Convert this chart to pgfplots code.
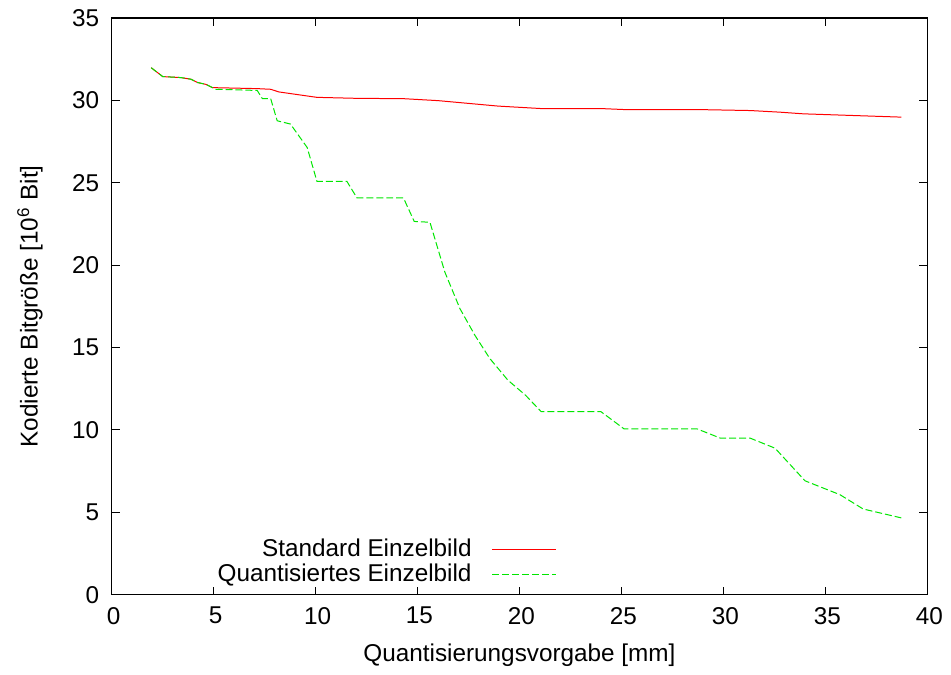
\documentclass[border=0pt]{standalone}
\usepackage{pgfplots}
\pgfplotsset{compat=1.18}
\usepackage{fontspec}
\setmainfont{Liberation Sans}
\begin{document}
\fontsize{12.2}{14.5}\selectfont
\begin{tikzpicture}
\begin{axis}[
  scale only axis,
  width=409.5pt, height=289.5pt,
  xmin=0, xmax=40, ymin=0, ymax=35,
  xtick={0,5,...,40}, ytick={0,5,...,35},
  /pgf/number format/assume math mode=true,
  tick align=inside,
  major tick length=4pt,
  tick style={black, line width=0.5pt},
  axis line style={line width=0.6pt},
  ticklabel style={font=\fontsize{12.2}{14.5}\selectfont},
  xticklabel style={yshift=-2pt, xshift=1pt},
  yticklabel style={xshift=-2pt},
  label style={font=\fontsize{12.2}{14.5}\selectfont},
  xlabel={Quantisierungsvorgabe [mm]},
  ylabel={Kodierte Bitgröße [10\textsuperscript{6} Bit]},
  xlabel style={at={(axis description cs:0.5,-0.105)}, anchor=center},
  ylabel style={at={(axis description cs:-0.100,0.5)}, anchor=center},
  legend style={draw=none, fill=none, at={(axis description cs:0.548,0.006)}, anchor=south east,
    font=\fontsize{12.2}{14.5}\selectfont, row sep=-2.5pt, inner sep=1pt},
  legend cell align=right,
  legend plot pos=right,
  legend image code/.code={\path (0pt,0pt); \draw[#1] (8pt,0pt) -- (40pt,0pt);},
]
\addplot[red, line width=0.5pt] coordinates {
(1.94,31.98) (2.51,31.44) (3.40,31.38) (3.89,31.28) (4.22,31.08) (4.62,30.97) (4.95,30.77)
(7.14,30.71) (7.80,30.67) (8.20,30.51) (10.07,30.18) (12.03,30.12) (14.31,30.10) (16.02,29.98)
(18.95,29.65) (21.06,29.50) (23.99,29.50) (25.13,29.44) (28.71,29.44) (31.31,29.38)
(32.78,29.28) (33.92,29.18) (38.72,28.98)
};
\addlegendentry{Standard Einzelbild}
\addplot[color={rgb,255:red,0;green,230;blue,0}, line width=0.5pt, dash pattern=on 3.5pt off 1.5pt] coordinates {
(1.94,31.98) (2.51,31.44) (3.40,31.38) (3.89,31.28) (4.22,31.08) (4.62,30.97) (4.95,30.77)
(5.11,30.67) (7.14,30.60) (7.39,30.11) (7.80,30.11) (8.12,28.76) (8.77,28.56) (9.59,27.14)
(10.07,25.08) (11.54,25.08) (12.03,24.08) (14.31,24.08) (14.84,22.65) (15.61,22.60)
(16.34,19.58) (17.08,17.36) (17.81,15.75) (18.54,14.34) (19.43,13.02) (20.30,12.10) (21.06,11.11)
(23.99,11.11) (25.13,10.06) (28.71,10.06) (29.85,9.50) (31.31,9.50) (32.53,8.89)
(34.00,6.91) (35.71,6.07) (36.85,5.20) (38.72,4.66)
};
\addlegendentry{Quantisiertes Einzelbild}
\end{axis}
\path ([shift={(-56pt,-38pt)}]current axis.south west) rectangle ([shift={(10pt,9pt)}]current axis.north east);
\end{tikzpicture}
\end{document}
